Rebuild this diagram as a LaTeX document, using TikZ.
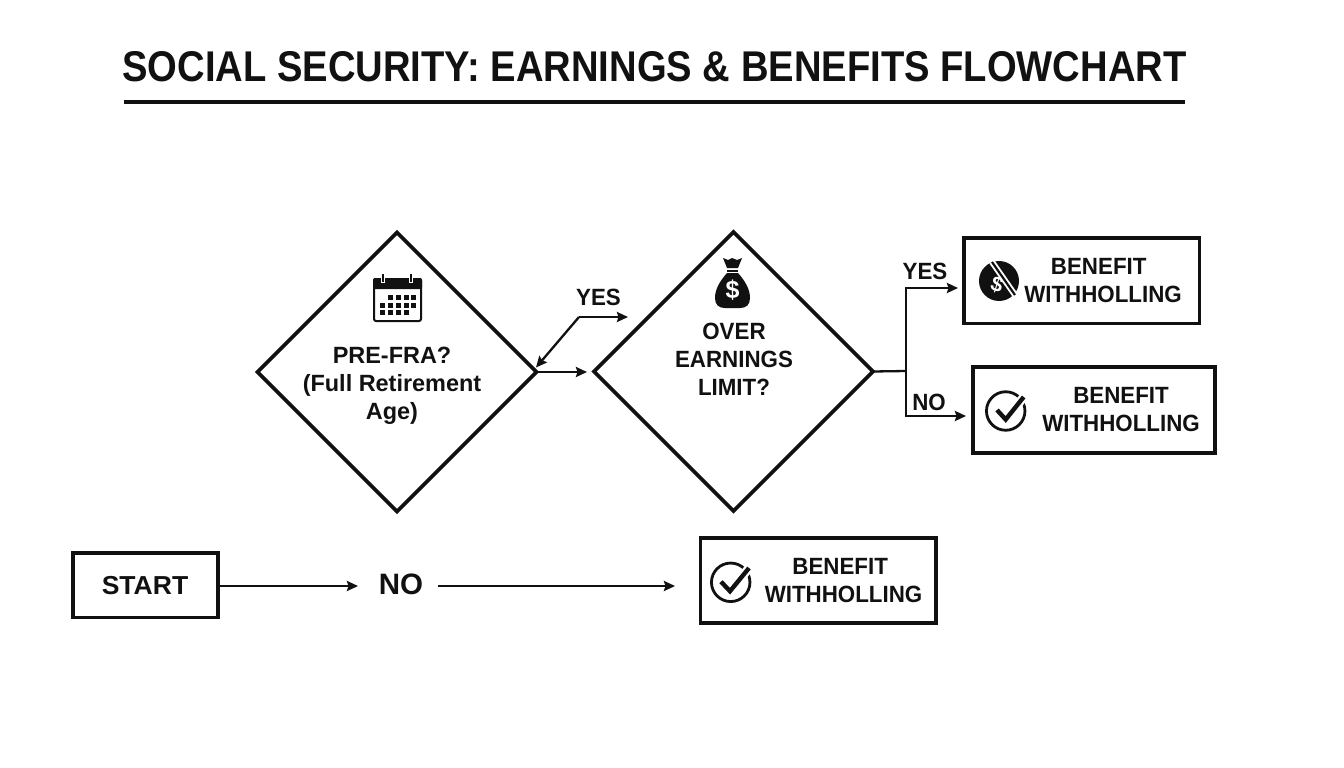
\documentclass[tikz,border=0pt]{standalone}
\usepackage{fontspec}
\setmainfont{Liberation Sans}
\usetikzlibrary{shapes.geometric,arrows.meta}
\definecolor{ink}{HTML}{111111}
\tikzset{
  boxn/.style={draw=ink,line width=3.6pt,rectangle,inner sep=0pt,outer sep=0pt,anchor=north west},
  dia/.style={draw=ink,line width=3.6pt,diamond,aspect=1,inner sep=0pt,outer sep=0pt,minimum width=#1,minimum height=#1},
  lab/.style={text=ink,font=\bfseries\fontsize{26}{28}\selectfont,align=center,inner sep=0pt,transform shape,xscale=1.02},
  small/.style={text=ink,font=\bfseries\fontsize{23.5}{28}\selectfont,align=center,inner sep=0pt,transform shape,xscale=.95},
  conn/.style={draw=ink,line width=2.3pt,-{Stealth[length=11pt,width=10pt,inset=1.5pt]}},
  plain/.style={draw=ink,line width=2.3pt},
  ring/.style={draw=ink,line width=2.8pt,circle,inner sep=0pt,outer sep=0pt,minimum size=38.5pt},
  tick/.style={draw=ink,line width=4.4pt,line cap=butt}
}
\begin{document}
\begin{tikzpicture}[x=1pt,y=-1pt]
\useasboundingbox (0,0) rectangle (1344,768);
\fill[white] (0,0) rectangle (1344,768);
% title
\node[text=ink,inner sep=0pt,transform shape,xscale=.888] (title) at (654.5,67) {\bfseries\fontsize{43}{46}\selectfont SOCIAL SECURITY: EARNINGS \& BENEFITS FLOWCHART};
\coordinate (ruleL) at (124,102);
\coordinate (ruleR) at (1185,102);
\draw[ink,line width=3.4pt] (ruleL) -- (ruleR);
% decisions
\node[dia=279pt] (d1) at (397,372) {};
\node[dia=279pt] (d2) at (733.5,371.5) {};
% boxes
\node[boxn,minimum width=235.5pt,minimum height=85.5pt] (b1) at (964,238) {};
\node[boxn,minimum width=241.7pt,minimum height=85.7pt] (b2) at (973,367) {};
\node[boxn,minimum width=235.5pt,minimum height=85pt] (b3) at (700.5,538) {};
\node[boxn,minimum width=144.7pt,minimum height=64.5pt] (start) at (73,553) {};
% texts
\node[lab] (startt) at (145,585.5) {START};
\node[text=ink,inner sep=0pt] (no) at (401,584) {\bfseries\fontsize{29.5}{30}\selectfont NO};
\node[small] (t1) at (1103,280.5) {\hspace*{-9pt}BENEFIT\\WITHHOLLING};
\node[small] (t2) at (1121,409.5) {BENEFIT\\WITHHOLLING};
\node[small] (t3) at (843.5,581) {\hspace*{-7pt}BENEFIT\\WITHHOLLING};
\node[small,xscale=1.05] (q1) at (392,385.5) {PRE-FRA?\\(Full Retirement\\Age)};
\node[small,xscale=1.0] (q2) at (734,359.5) {OVER\\EARNINGS\\LIMIT?};
\node[small] (yes1) at (598.5,297.5) {YES};
\node[small] (yes2) at (925,271) {YES};
\node[small] (no2) at (929,402) {NO};
% connectors
\coordinate (a1) at (587,372);
\coordinate (elb) at (579,317);
\coordinate (a2) at (628,317);
\coordinate (j) at (906,371);
\coordinate (ju) at (906,288);
\coordinate (jd) at (906,416);
\coordinate (a3) at (958,288);
\coordinate (a4) at (966,416);
\coordinate (s1) at (358,586);
\coordinate (s2) at (438,586);
\coordinate (s3) at (675,586);
\coordinate (s0) at (220,586);
\coordinate (d1tip) at (536,367.5);
\draw[conn] (d1.east) -- (a1);
\draw[conn] (elb) -- (a2);
\draw[conn] (elb) -- (d1tip);
\draw[plain] (d2.east) -- (j);
\draw[conn] (j) -- (ju) -- (a3);
\draw[conn] (j) -- (jd) -- (a4);
\draw[conn] (s0) -- (s1);
\draw[conn] (s2) -- (s3);
% calendar
\draw[ink,line width=2pt,rounded corners=2pt,fill=white] (374,279) rectangle (421,321);
\fill[ink,rounded corners=2pt] (373,278) rectangle (422,289);
\draw[white,line width=3.4pt] (383,275) -- (383,283) (411,275) -- (411,283);
\draw[ink,line width=1.4pt] (383,274) -- (383,282) (411,274) -- (411,282);
\foreach \x in {390,398,406,413} \fill[ink] (\x-2.5,294.5) rectangle (\x+2.5,299.5);
\foreach \x in {382,390,398,406,413} \fill[ink] (\x-2.5,302.5) rectangle (\x+2.5,307.5);
\foreach \x in {382,390,398,406} \fill[ink] (\x-2.5,309.5) rectangle (\x+2.5,314.5);
% money bag
\fill[ink] (723,258) -- (728,260) -- (732,258) -- (737,260) -- (742,258) -- (738,268) -- (727,268) -- cycle;
\fill[ink] (727,270) rectangle (738,272);
\fill[ink] (727,273) .. controls (719,282) and (715,290) .. (715,298) .. controls (715,305) and (719,308) .. (725,308) -- (740,308) .. controls (746,308) and (750,305) .. (750,298) .. controls (750,290) and (746,282) .. (738,273) -- cycle;
\node[text=white,inner sep=0pt] (dollar1) at (732.5,290) {\bfseries\fontsize{25}{25}\selectfont\$};
% no-dollar icon
\node[circle,fill=ink,inner sep=0pt,minimum size=40pt] (ic1) at (999,281) {};
\node[text=white,inner sep=0pt,rotate=-18] (dollar2) at (997,285) {\bfseries\fontsize{21}{21}\selectfont\$};
\coordinate (sl1) at (992,262);
\coordinate (sl2) at (1015,295);
\draw[white,line width=6pt] (sl1) -- (sl2);
\draw[ink,line width=2.2pt] (sl1) -- (sl2);
% check icons
\node[ring] (ic2) at (1005.7,411) {};
\coordinate (c2a) at (997,410);
\coordinate (c2b) at (1005.7,419.5);
\coordinate (c2c) at (1023.7,397);
\draw[white,line width=9pt] (c2b) -- (c2c);
\draw[tick] (c2a) -- (c2b) -- (c2c);
\node[ring] (ic3) at (730.7,582.3) {};
\coordinate (c3a) at (721,581.7);
\coordinate (c3b) at (730,591.2);
\coordinate (c3c) at (749,568);
\draw[white,line width=9pt] (c3b) -- (c3c);
\draw[tick] (c3a) -- (c3b) -- (c3c);
\end{tikzpicture}
\end{document}
